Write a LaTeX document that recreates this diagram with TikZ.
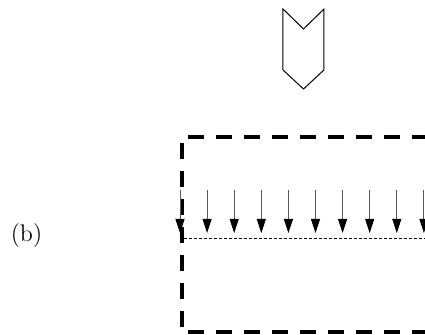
\documentclass[tikz,border=0pt]{standalone}
\usetikzlibrary{arrows.meta}
\begin{document}
\begin{tikzpicture}[x=0.5pt,y=-0.5pt,
  boxline/.style={line width=2pt,dash pattern=on 8pt off 6pt,dash phase=11pt,line cap=butt},
  loadarrow/.style={line width=0.4pt,black!65,-{Triangle[width=4.5pt,length=7pt,black]}},
  baseline/.style={line width=0.35pt,dash pattern=on 1.5pt off 1pt},
  chevron/.style={line width=0.5pt,line join=miter}]
\useasboundingbox (0,0) rectangle (425,335);
% chevron arrow
\draw[chevron] (283,9) -- (303.5,29) -- (324,9) -- (324,70) -- (303.5,89) -- (283,70) -- cycle;
% label
\node[font=\large,inner sep=0pt] (lab) at (26.5,236) {(b)};
% dashed box (clipped at right)
\coordinate (c1) at (182,137);
\coordinate (c2) at (182,332);
\begin{scope}
\clip (0,0) rectangle (425,335);
\draw[boxline] (c1) -- (445,137);
\draw[boxline] (c1) -- (c2);
\draw[boxline] (c2) -- (445,332);
% dotted line
\draw[baseline] (184,238) -- (430,238);
% arrows
\foreach \k in {0,...,9} {
  \coordinate (s\k) at ({180+27.1*\k},190);
  \coordinate (t\k) at ({180+27.1*\k},233);
  \draw[loadarrow] (s\k) -- (t\k);
}
\end{scope}
\end{tikzpicture}
\end{document}
